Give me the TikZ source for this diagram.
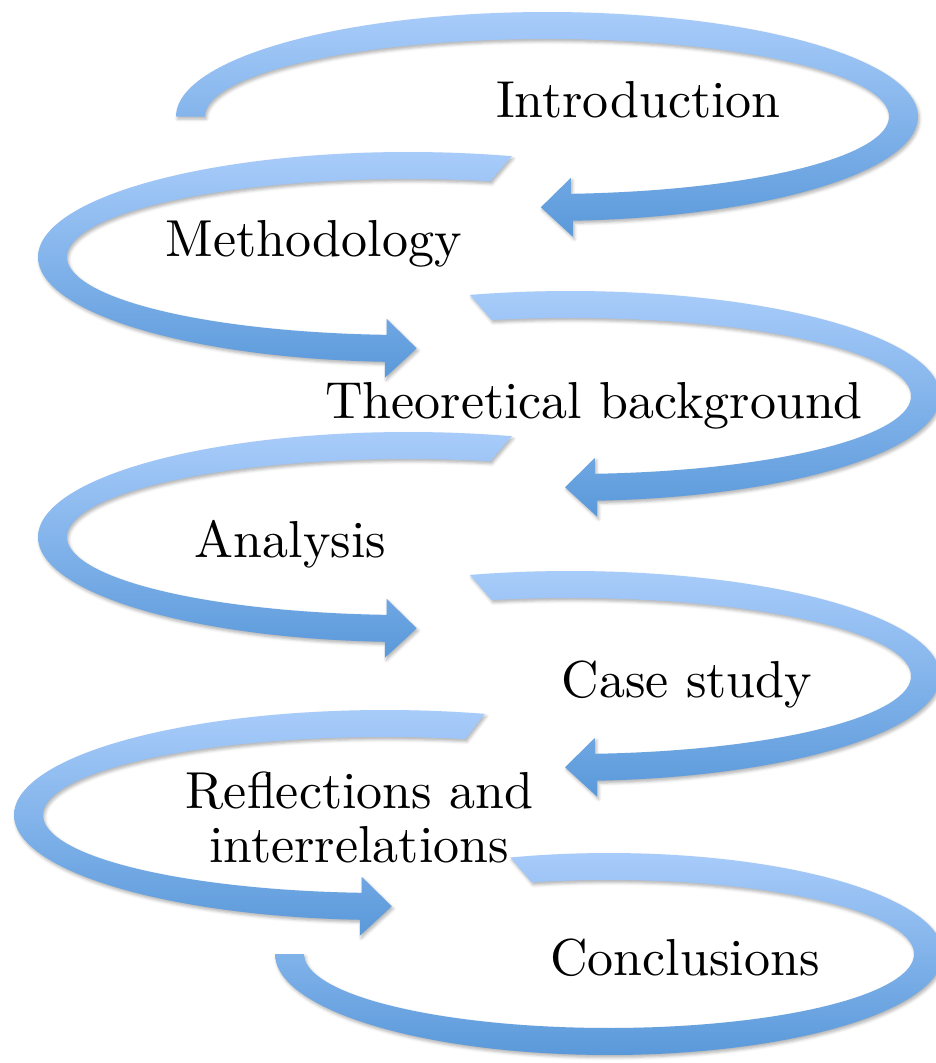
\documentclass[tikz,border=0pt]{standalone}
\usepackage{fontspec}
\usetikzlibrary{shadows.blur}

% labels in the 10pt design of Latin Modern Roman (wider, sturdier strokes)
\newfontfamily\labelfont{lmroman10-regular.otf}

\definecolor{swirltop}{RGB}{168,204,250}
\definecolor{swirlbottom}{RGB}{90,153,218}

% band thickness (horizontal / vertical) and arrowhead size
\newcommand{\bandwx}{29}
\newcommand{\bandwy}{27}
\newcommand{\headext}{16}
\newcommand{\headlen}{31}

\tikzset{
  swirl/.style={top color=swirltop, bottom color=swirlbottom, draw=none,
    blur shadow={shadow xshift=1.5pt, shadow yshift=-2.5pt,
                 shadow blur radius=3pt, shadow opacity=30}},
  label/.style={font=\labelfont\fontsize{52}{54}\selectfont, inner sep=0pt, anchor=base}
}

% elliptic band with an arrowhead at its end
% #1 cx, #2 cy, #3 Rx, #4 Ry, #5 outer tail angle, #6 inner tail angle, #7 end angle, #8 head direction (+1 right, -1 left)
\newcommand{\headswirl}[8]{%
  \pgfmathsetmacro\swox{#1+#3*cos(#7)}%
  \pgfmathsetmacro\swoy{#2-#4*sin(#7)}%
  \pgfmathsetmacro\swix{#1+(#3-\bandwx)*cos(#7)}%
  \pgfmathsetmacro\swiy{#2-(#4-\bandwy)*sin(#7)}%
  \pgfmathsetmacro\swtx{(\swox+\swix)/2+#8*\headlen}%
  \pgfmathsetmacro\swty{(\swoy+\swiy)/2}%
  \path[swirl]
    plot[domain=#5:#7, samples=120] ({#1+#3*cos(\x)},{#2-#4*sin(\x)})
    -- (\swox,\swoy+\headext) -- (\swtx,\swty) -- (\swix,\swiy-\headext)
    -- plot[domain=#7:#6, samples=120] ({#1+(#3-\bandwx)*cos(\x)},{#2-(#4-\bandwy)*sin(\x)})
    -- cycle;
}

% elliptic band with a flat end
\newcommand{\flatswirl}[7]{%
  \path[swirl]
    plot[domain=#5:#7, samples=120] ({#1+#3*cos(\x)},{#2-#4*sin(\x)})
    -- plot[domain=#7:#6, samples=120] ({#1+(#3-\bandwx)*cos(\x)},{#2-(#4-\bandwy)*sin(\x)})
    -- cycle;
}

\begin{document}
\begin{tikzpicture}[x=1pt, y=-1pt]
  \useasboundingbox (0,0) rectangle (935,1063);

  % the chain of loops, top to bottom
  \headswirl{547}{116.5}{371}{104.5}{180}{180}{-86}{-1}
  \headswirl{408}{257}{370}{105}{73.7}{76.0}{266.4}{1}
  \headswirl{570}{396}{370}{105}{105.7}{103.3}{-85.8}{-1}
  \headswirl{408}{537}{370}{105}{73.7}{76.0}{266.4}{1}
  \headswirl{570}{676}{370}{105}{105.7}{103.3}{-85.8}{-1}
  \headswirl{385}{815}{371}{105}{74.4}{76.4}{266.1}{1}
  \flatswirl{609}{954}{334}{101}{107.2}{104.7}{-180}

  % chapter labels
  \node[label] (intro)     at (638.5,117) {Introduction};
  \node[label] (method)    at (313.5,256) {Methodology};
  \node[label] (theory)    at (594,418)   {Theoretical background};
  \node[label] (analysis)  at (290.5,557) {Analysis};
  \node[label] (casestudy) at (687,697)   {Case study};
  \node[label] (reflect)   at (359.5,808) {Reflections and};
  \node[label] (interrel)  at (359,862)   {interrelations};
  \node[label] (concl)     at (685,975)   {Conclusions};
\end{tikzpicture}
\end{document}
